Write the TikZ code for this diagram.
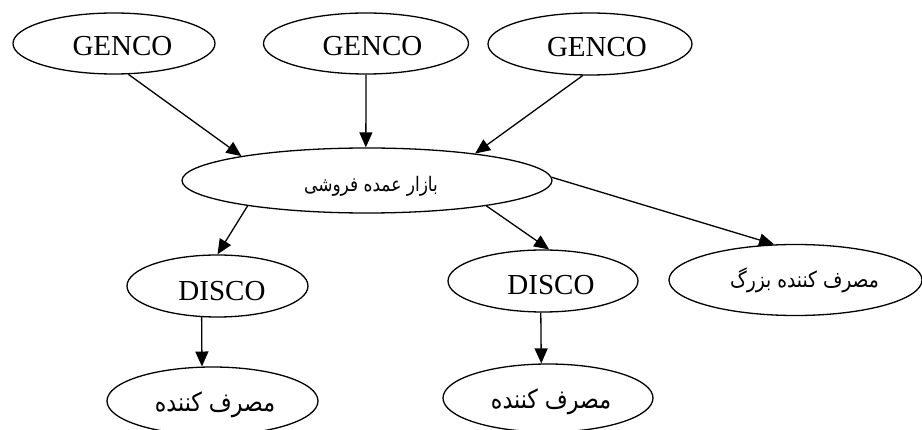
\documentclass[tikz,border=0pt]{standalone}
\usepackage{fontspec}
\setmainfont{Liberation Serif}
\newfontfamily\fa[Script=Arabic,FakeStretch=0.85]{DejaVu Sans}
\TeXXeTstate=1
\usetikzlibrary{shapes.geometric,arrows.meta}
% right-to-left Persian text
\newcommand{\rtl}[1]{{\fa\beginR #1\endR}}
% label placed #1 right of and with its baseline #2 below the oval's centre
\newcommand{\lbl}[3]{\hspace*{#1}\raisebox{-#2}[0pt][0pt]{#3}}

\begin{document}
\begin{tikzpicture}[x=1pt,y=-1pt,
  oval/.style={ellipse,draw,line width=1.3pt,inner sep=0pt},
  lat/.style={font=\fontsize{29}{29}\selectfont},
  arr/.style={line width=1.3pt,-{Triangle[length=15pt,width=13pt]}}]
\useasboundingbox (0,0) rectangle (922,430);

% generating companies
\node[oval,lat,minimum width=202pt,minimum height=61pt] (g1) at (114,43.5) {\lbl{17pt}{12.5pt}{GENCO}};
\node[oval,lat,minimum width=205pt,minimum height=61pt] (g2) at (366,43.5) {\lbl{13pt}{12.5pt}{GENCO}};
\node[oval,lat,minimum width=204pt,minimum height=62pt] (g3) at (590,44) {\lbl{14pt}{12.5pt}{GENCO}};

% wholesale market
\node[oval,font=\fontsize{20}{20}\selectfont,minimum width=370pt,minimum height=65pt] (m) at (367,180.5) {\lbl{8pt}{11.5pt}{\rtl{بازار عمده فروشی}}};

% distribution companies
\node[oval,lat,minimum width=181pt,minimum height=62pt] (d1) at (217.5,286) {\lbl{9pt}{15pt}{DISCO}};
\node[oval,lat,minimum width=190pt,minimum height=62pt] (d2) at (543,281) {\lbl{16pt}{14pt}{DISCO}};

% customers
\node[oval,font=\fontsize{22}{22}\selectfont,minimum width=253pt,minimum height=71pt] (L) at (795.5,280) {\lbl{18pt}{8pt}{\rtl{مصرف کننده بزرگ}}};
\node[oval,font=\fontsize{26}{26}\selectfont,minimum width=211pt,minimum height=68pt] (c1) at (212.5,401) {\lbl{5pt}{11pt}{\rtl{مصرف کننده}}};
\node[oval,font=\fontsize{26}{26}\selectfont,minimum width=210pt,minimum height=68pt] (c2) at (548,398) {\lbl{6pt}{11pt}{\rtl{مصرف کننده}}};

% flows
\draw[arr] (g1.-65) -- (m.169);
\draw[arr] (g2.-90) -- (m.92);
\draw[arr] (g3.-103) -- (m.14);
\draw[arr] (m.192.6) -- (d1.90);
\draw[arr] (m.-12.8) -- (d2.79);
\draw[arr] (m.1.4) -- (L.121.6);
\draw[arr] (d1.-117) -- (c1.107.3);
\draw[arr] (d2.-94) -- (c2.101.6);
\end{tikzpicture}
\end{document}
